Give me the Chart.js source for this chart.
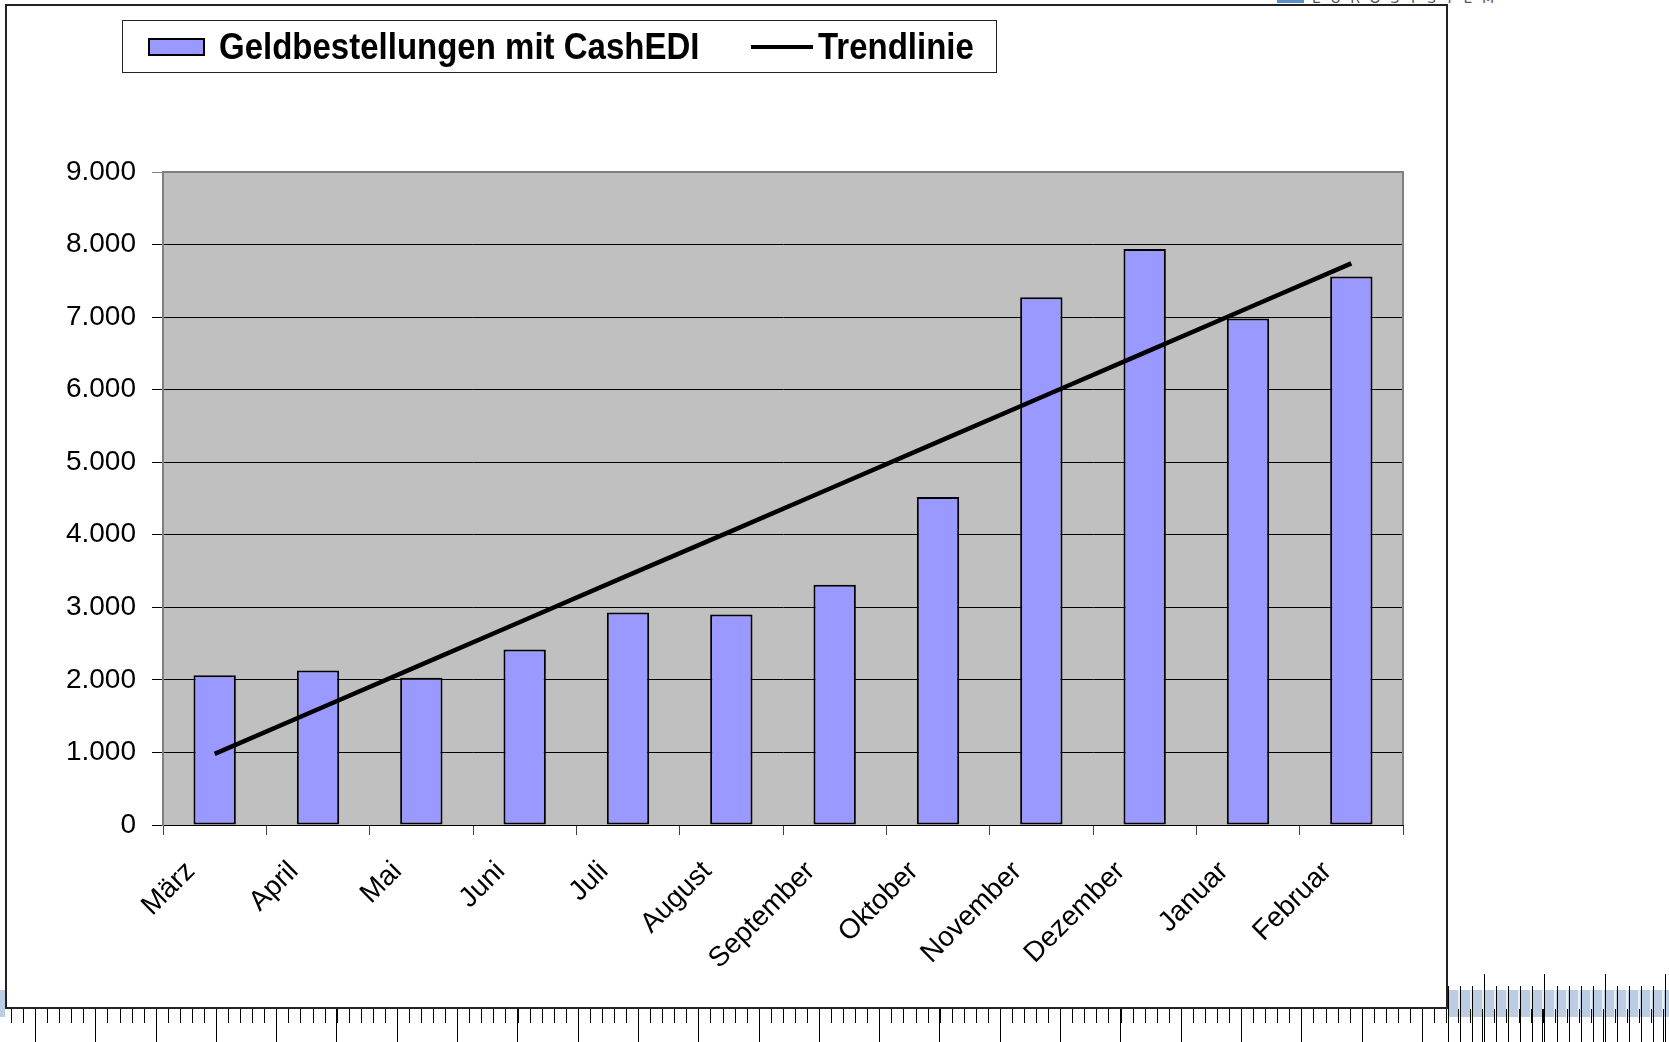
<!DOCTYPE html>
<html>
<head>
<meta charset="utf-8">
<script src="https://cdn.jsdelivr.net/npm/chart.js@4"></script>
<style>
    html, body { margin: 0; padding: 0; background: #fff; }
    body { width: 1669px; height: 1042px; position: relative; overflow: hidden; font-family: "Liberation Sans", Arial, sans-serif; }
    #chartWrap { position: absolute; left: 0; top: 0; width: 1669px; height: 1042px; }
    #frame { position: absolute; left: 5px; top: 4px; width: 1443px; height: 1005px; box-sizing: border-box; border: 2px solid #222; pointer-events: none; }
    #legendBox { position: absolute; left: 122px; top: 20px; width: 875px; height: 53px; box-sizing: border-box; border: 1px solid #222; background: #fff; }
    .lg-item { position: absolute; top: 0; height: 51px; line-height: 51px; font-weight: bold; font-size: 33px; color: #000; white-space: nowrap; transform: scaleY(1.12); transform-origin: left center; }
    .swatch-bar { position: absolute; left: 25px; top: 17px; width: 57px; height: 18px; box-sizing: border-box; background: #9999ff; border: 2px solid #000; }
    .swatch-line { position: absolute; left: 628px; top: 24px; width: 62px; height: 4px; background: #000; }
    /* page artefacts around the chart (scan of a document) */
    #stripL { position: absolute; top: 990px; height: 27px; left: 0; width: 5px; background: #bccde2; }
    #stripR { position: absolute; top: 990px; height: 27px; left: 1448px; width: 221px;
        background: repeating-linear-gradient(to right, #bccde2 0 10px, #e8eef6 10px 12px); }
    #ruler { position: absolute; left: 0; top: 1009px; width: 1669px; height: 33px;
        background:
            repeating-linear-gradient(to right, #000 0 1px, transparent 1px 60.3px) 35px 0 / 1669px 33px no-repeat,
            repeating-linear-gradient(to right, #000 0 1px, transparent 1px 12.06px) 11px 0 / 1669px 14px no-repeat; }
    #rulerR { position: absolute; left: 1448px; top: 974px; width: 221px; height: 68px;
        background:
            repeating-linear-gradient(to right, #000 0 1px, transparent 1px 60.3px) 36px 0 / 221px 68px no-repeat,
            repeating-linear-gradient(to right, #000 0 1px, transparent 1px 12.06px) 0 12px / 221px 56px no-repeat; }
    #euroSq { position: absolute; left: 1277px; top: 0; width: 27px; height: 3px; background: #5b8fc9; }
    #euroTx { position: absolute; left: 1312px; top: -10px; height: 16px; line-height: 16px; white-space: nowrap;
        font-family: "DejaVu Sans", sans-serif; font-size: 14px; letter-spacing: 9.6px; color: #555; }
</style>
</head>
<body>
<div id="euroSq"></div>
<div id="euroTx">EUROSYSTEM</div>
<div id="stripL"></div>
<div id="stripR"></div>
<div id="ruler"></div>
<div id="rulerR"></div>
<div id="chartWrap"><canvas id="cashChart"></canvas></div>
<div id="frame"></div>
<div id="legendBox">
    <span class="swatch-bar"></span>
    <span class="lg-item" style="left:96px;">Geldbestellungen mit CashEDI</span>
    <span class="swatch-line"></span>
    <span class="lg-item" style="left:695px;">Trendlinie</span>
</div>

<script>
// data
const months = ['März', 'April', 'Mai', 'Juni', 'Juli', 'August', 'September', 'Oktober', 'November', 'Dezember', 'Januar', 'Februar'];
const orders = [2065, 2130, 2030, 2420, 2930, 2900, 3310, 4520, 7275, 7940, 6980, 7560];
const trend = [980, 1595, 2210, 2825, 3440, 4050, 4665, 5280, 5895, 6510, 7125, 7740];
const yTicks = [0, 1000, 2000, 3000, 4000, 5000, 6000, 7000, 8000, 9000];

const tickFont = { family: '"Liberation Sans", Arial, sans-serif', size: 28 };

// grey plot background + grey top/right edge like the old Excel chart
const plotArea = {
    id: 'plotArea',
    beforeDraw(chart) {
        const { ctx, chartArea: a } = chart;
        ctx.save();
        ctx.fillStyle = '#c0c0c0';
        ctx.fillRect(a.left, a.top, a.right - a.left, a.bottom - a.top);
        ctx.restore();
    },
    afterDatasetsDraw(chart) {
        const { ctx, chartArea: a } = chart;
        ctx.save();
        ctx.strokeStyle = '#808080';
        ctx.lineWidth = 2;
        ctx.beginPath();
        ctx.moveTo(a.left, a.top);
        ctx.lineTo(a.right, a.top);
        ctx.lineTo(a.right, a.bottom);
        ctx.stroke();
        ctx.restore();
    }
};

const ctx = document.getElementById('cashChart').getContext('2d');

new Chart(ctx, {
    type: 'bar',
    data: {
        labels: months,
        datasets: [{
            type: 'line',
            label: 'Trendlinie',
            data: trend,
            borderColor: '#000',
            borderWidth: 4.5,
            pointRadius: 0,
            tension: 0,
            fill: false,
            order: 0
        }, {
            label: 'Geldbestellungen mit CashEDI',
            data: orders,
            backgroundColor: '#9999ff',
            borderColor: '#000',
            borderWidth: 2,
            borderSkipped: false,
            barPercentage: 0.41,
            categoryPercentage: 1,
            order: 1
        }]
    },
    options: {
        responsive: true,
        maintainAspectRatio: false,
        animation: false,
        layout: {
            padding: { left: 0, right: 266, top: 172, bottom: 0 }
        },
        plugins: {
            legend: { display: false },
            tooltip: { enabled: false }
        },
        scales: {
            x: {
                offset: true,
                afterFit: (s) => { s.height = 217; },
                grid: {
                    offset: true,
                    drawOnChartArea: false,
                    drawTicks: true,
                    tickLength: 10,
                    color: '#404040'
                },
                border: { display: true, color: '#000', width: 1 },
                ticks: {
                    color: '#000',
                    font: tickFont,
                    autoSkip: false,
                    minRotation: 45,
                    maxRotation: 45,
                    padding: 20,
                    labelOffset: -24
                }
            },
            y: {
                min: 0,
                max: 9000,
                afterFit: (s) => { s.width = 163; },
                afterBuildTicks: (s) => { s.ticks = yTicks.map(v => ({ value: v })); },
                grid: {
                    color: (c) => (c.tick && c.tick.value === 9000 ? '#808080' : '#000'),
                    lineWidth: 1,
                    tickLength: 11
                },
                border: { display: true, color: '#808080', width: 2 },
                ticks: {
                    color: '#000',
                    font: tickFont,
                    padding: 16,
                    callback: (v) => v.toString().replace(/\B(?=(\d{3})+(?!\d))/g, '.')
                }
            }
        }
    },
    plugins: [plotArea]
});
</script>
</body>
</html>
